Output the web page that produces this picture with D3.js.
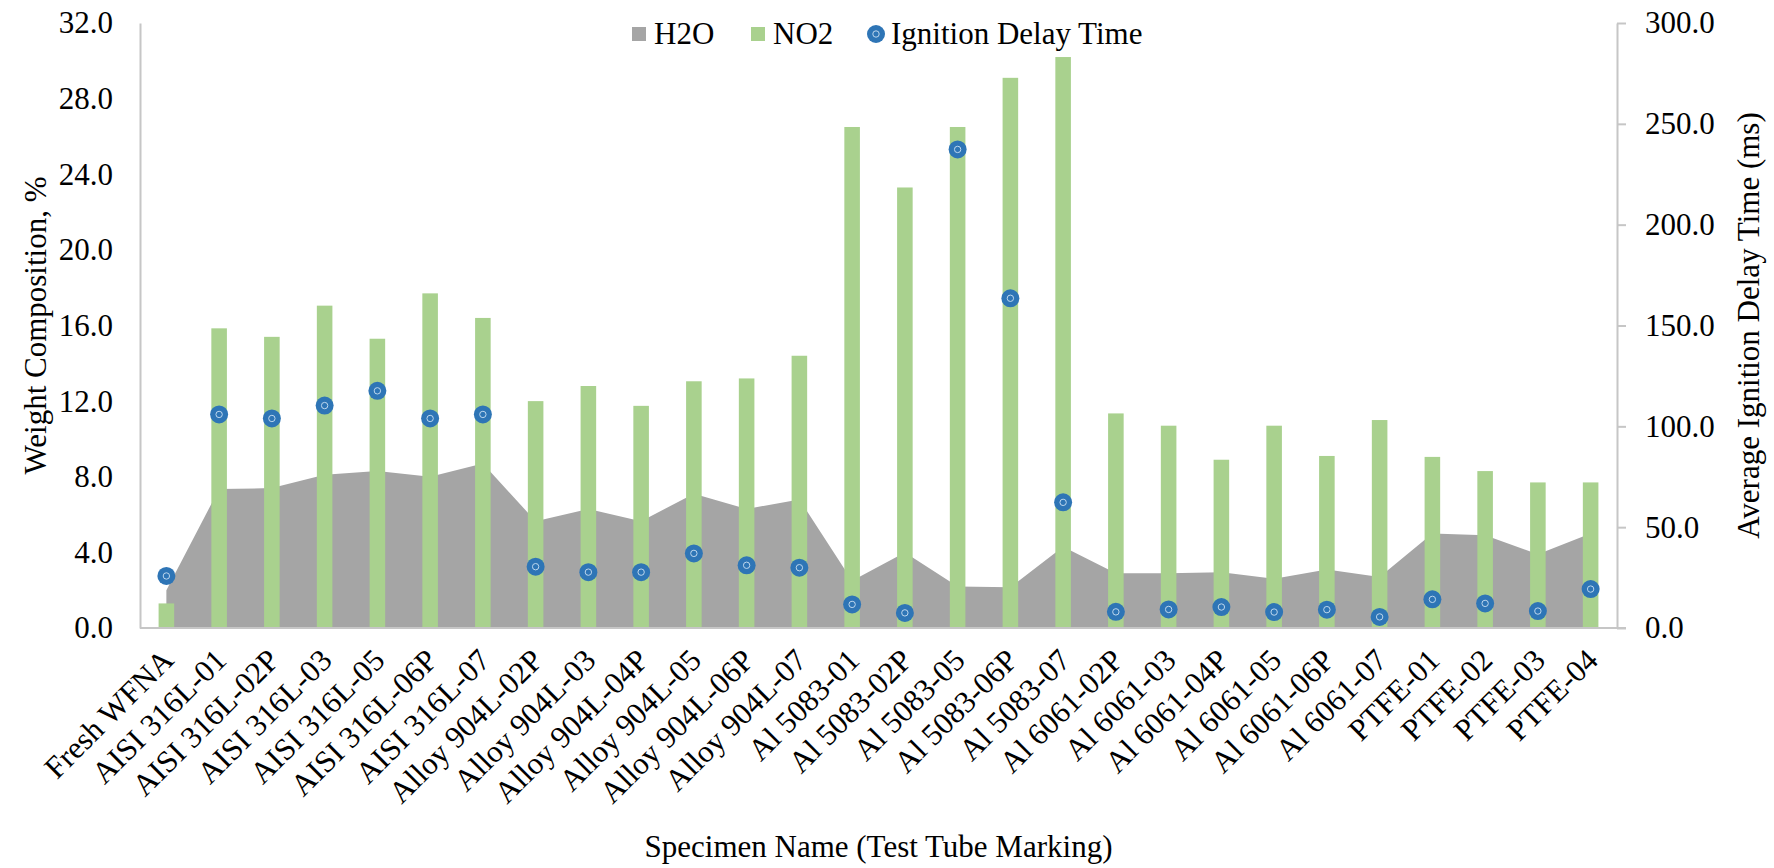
<!DOCTYPE html>
<html>
<head>
<meta charset="utf-8">
<script src="https://cdn.jsdelivr.net/npm/d3@7"></script>
<style>
  body { margin: 0; background: #fff; }
  svg { display: block; }
</style>
</head>
<body>
<svg id="chart" width="1774" height="868"></svg>
<script>
// Specimens (test tube markings)
const categories = [
  "Fresh WFNA", "AISI 316L-01", "AISI 316L-02P", "AISI 316L-03", "AISI 316L-05",
  "AISI 316L-06P", "AISI 316L-07", "Alloy 904L-02P", "Alloy 904L-03", "Alloy 904L-04P",
  "Alloy 904L-05", "Alloy 904L-06P", "Alloy 904L-07", "Al 5083-01", "Al 5083-02P",
  "Al 5083-05", "Al 5083-06P", "Al 5083-07", "Al 6061-02P", "Al 6061-03",
  "Al 6061-04P", "Al 6061-05", "Al 6061-06P", "Al 6061-07", "PTFE-01",
  "PTFE-02", "PTFE-03", "PTFE-04"
];

// Weight composition, %
const h2o = [
  2.0, 7.35, 7.4, 8.1, 8.3, 8.0, 8.7, 5.65, 6.3, 5.65,
  7.1, 6.3, 6.8, 2.5, 4.0, 2.2, 2.15, 4.3, 2.9, 2.9,
  2.95, 2.6, 3.1, 2.7, 5.0, 4.9, 3.9, 5.0
];
const no2 = [
  1.3, 15.85, 15.4, 17.05, 15.3, 17.7, 16.4, 12.0, 12.8, 11.75,
  13.05, 13.2, 14.4, 26.5, 23.3, 26.5, 29.1, 30.2, 11.35, 10.7,
  8.9, 10.7, 9.1, 11.0, 9.05, 8.3, 7.7, 7.7
];

// Average ignition delay time, ms
const ignitionDelay = [
  25.8, 105.9, 103.9, 110.3, 117.6, 103.9, 105.9, 30.4, 27.7, 27.7,
  37.0, 31.1, 29.9, 11.7, 7.5, 237.3, 163.5, 62.3, 8.0, 9.2,
  10.4, 7.9, 9.1, 5.5, 14.2, 12.2, 8.4, 19.3
];

const leftTicks = [0, 4, 8, 12, 16, 20, 24, 28, 32];
const rightTicks = [0, 50, 100, 150, 200, 250, 300];
const legendLabels = ["H2O", "NO2", "Ignition Delay Time"];

const W = 1774, H = 868;
const FONT = '"Liberation Serif", "Times New Roman", serif';
const FS = 31;
const COL_H2O = "#A5A5A5", COL_NO2 = "#A9D18E", COL_DOT = "#2E75B6", COL_AXIS = "#C6C6C6";
const plot = { left: 140, right: 1617, top: 23, bottom: 628 };
const tickLen = 9;

const svg = d3.select("#chart");
svg.append("rect").attr("width", W).attr("height", H).attr("fill", "#fff");

const x = d3.scaleBand().domain(categories).range([plot.left, plot.right]);
const cx = c => x(c) + x.bandwidth() / 2;
const yL = d3.scaleLinear().domain([0, 32]).range([plot.bottom, plot.top]);
const yR = d3.scaleLinear().domain([0, 300]).range([plot.bottom, plot.top]);

// H2O area, points at the category centres
const area = d3.area()
  .x((d, i) => cx(categories[i]))
  .y0(yL(0))
  .y1(d => yL(d));
svg.append("path").datum(h2o).attr("d", area).attr("fill", COL_H2O);

// NO2 columns
const bw = x.bandwidth() * 0.295;
svg.append("g").selectAll("rect").data(no2).join("rect")
  .attr("x", (d, i) => cx(categories[i]) - bw / 2)
  .attr("width", bw)
  .attr("y", d => yL(d))
  .attr("height", d => yL(0) - yL(d))
  .attr("fill", COL_NO2);

// Left axis
const gL = svg.append("g")
  .attr("transform", `translate(${plot.left},0)`)
  .call(d3.axisLeft(yL).tickValues(leftTicks).tickFormat(d3.format(".1f"))
    .tickSize(0).tickSizeOuter(0).tickPadding(27));
gL.attr("font-family", FONT).attr("font-size", FS);
gL.select(".domain").attr("stroke", COL_AXIS).attr("stroke-width", 2);
gL.selectAll("text").attr("fill", "#000");

// Right axis
const gR = svg.append("g")
  .attr("transform", `translate(${plot.right},0)`)
  .call(d3.axisRight(yR).tickValues(rightTicks).tickFormat(d3.format(".1f"))
    .tickSize(tickLen).tickSizeOuter(0).tickPadding(19));
gR.attr("font-family", FONT).attr("font-size", FS);
gR.select(".domain").attr("stroke", COL_AXIS).attr("stroke-width", 2);
gR.selectAll(".tick line").attr("stroke", COL_AXIS).attr("stroke-width", 2);
gR.selectAll("text").attr("fill", "#000");

// Category axis line
svg.append("line")
  .attr("x1", plot.left).attr("x2", plot.right + tickLen)
  .attr("y1", plot.bottom).attr("y2", plot.bottom)
  .attr("stroke", COL_AXIS).attr("stroke-width", 2);

// Category labels, rotated 45 degrees
svg.append("g").selectAll("text").data(categories).join("text")
  .attr("transform", c => `translate(${cx(c) + 9},${plot.bottom + 34}) rotate(-45)`)
  .attr("text-anchor", "end")
  .attr("font-family", FONT).attr("font-size", FS).attr("fill", "#000")
  .text(c => c);

// Ignition delay markers
const dots = svg.append("g").selectAll("g").data(ignitionDelay).join("g")
  .attr("transform", (d, i) => `translate(${cx(categories[i])},${yR(d)})`);
dots.append("circle").attr("r", 9).attr("fill", COL_DOT);
dots.append("circle").attr("r", 3.2).attr("fill", "none")
  .attr("stroke", "#BDD7EE").attr("stroke-width", 1);

// Axis titles
svg.append("text")
  .attr("transform", `translate(35,${(plot.top + plot.bottom) / 2}) rotate(-90)`)
  .attr("text-anchor", "middle").attr("dominant-baseline", "central")
  .attr("font-family", FONT).attr("font-size", FS).attr("fill", "#000")
  .text("Weight Composition, %");
svg.append("text")
  .attr("transform", `translate(1748,${(plot.top + plot.bottom) / 2}) rotate(-90)`)
  .attr("text-anchor", "middle").attr("dominant-baseline", "central")
  .attr("font-family", FONT).attr("font-size", FS).attr("fill", "#000")
  .text("Average Ignition Delay Time (ms)");
svg.append("text")
  .attr("x", (plot.left + plot.right) / 2).attr("y", 857)
  .attr("text-anchor", "middle")
  .attr("font-family", FONT).attr("font-size", FS).attr("fill", "#000")
  .text("Specimen Name (Test Tube Marking)");

// Legend
const legend = svg.append("g").attr("font-family", FONT).attr("font-size", FS);
const legY = 34;
const legendItems = [
  { key: "square", color: COL_H2O, kx: 632, tx: 654 },
  { key: "square", color: COL_NO2, kx: 751, tx: 773 },
  { key: "dot", color: COL_DOT, kx: 876, tx: 891 }
];
legendItems.forEach((it, i) => {
  if (it.key === "square") {
    legend.append("rect").attr("x", it.kx).attr("y", legY - 7)
      .attr("width", 14).attr("height", 14).attr("fill", it.color);
  } else {
    legend.append("circle").attr("cx", it.kx).attr("cy", legY).attr("r", 9).attr("fill", it.color);
    legend.append("circle").attr("cx", it.kx).attr("cy", legY).attr("r", 3.2)
      .attr("fill", "none").attr("stroke", "#BDD7EE").attr("stroke-width", 1);
  }
  legend.append("text").attr("x", it.tx).attr("y", legY + 10).attr("fill", "#000")
    .text(legendLabels[i]);
});
</script>
</body>
</html>
